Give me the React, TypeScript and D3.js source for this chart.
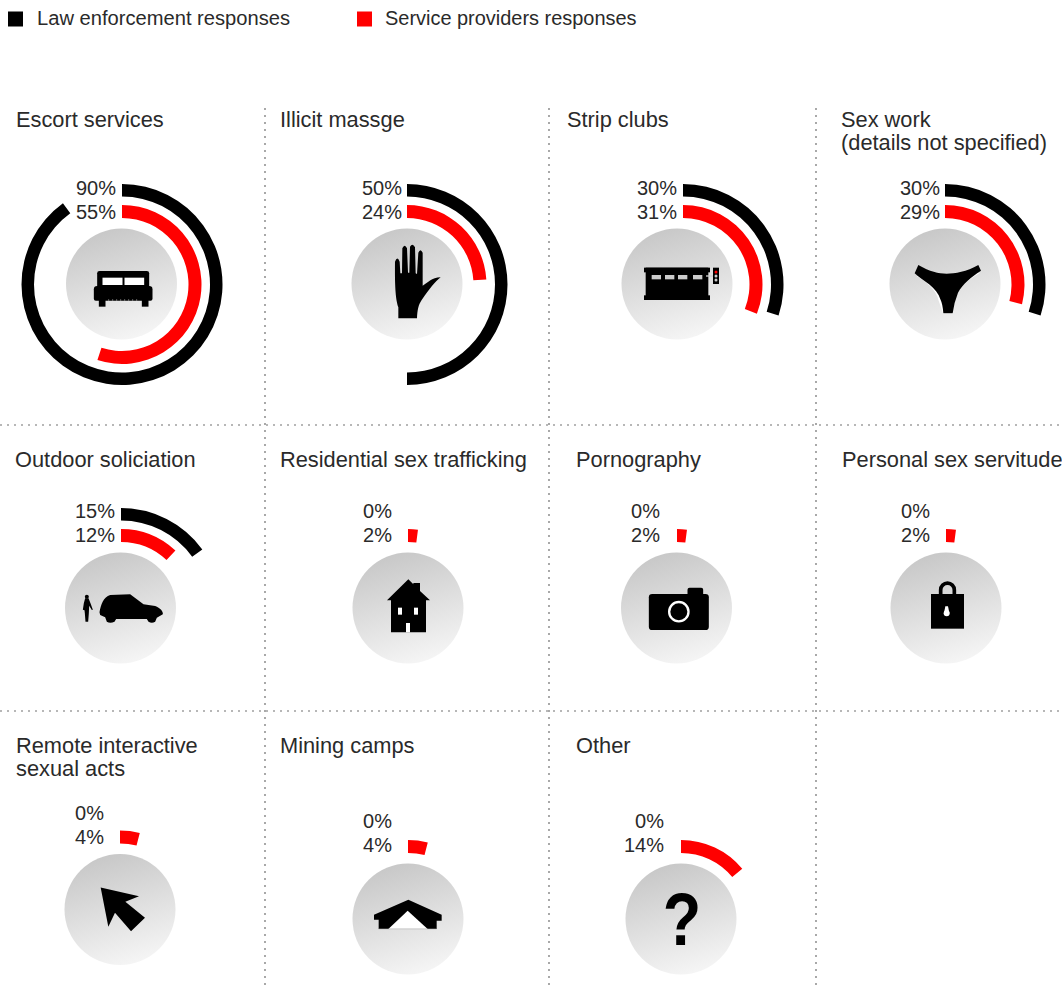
import React from "react";
import * as d3 from "d3";

const titles: string[][] = [
  ["Escort services"], ["Illicit massge"], ["Strip clubs"], ["Sex work", "(details not specified)"],
  ["Outdoor soliciation"], ["Residential sex trafficking"], ["Pornography"], ["Personal sex servitude"],
  ["Remote interactive", "sexual acts"], ["Mining camps"], ["Other"],
];
const lawValues = [90, 50, 30, 30, 15, 0, 0, 0, 0, 0, 0];
const serviceValues = [55, 24, 31, 29, 12, 2, 2, 2, 4, 4, 14];
const legendLabels = ["Law enforcement responses", "Service providers responses"];

// layout, per panel
const titleX = [16, 280, 567, 841, 15, 280, 576, 842, 16, 280, 576];
const titleY = [127, 127, 127, 127, 467, 467, 467, 467, 753, 753, 753];
const arcX = [122, 407, 683, 945, 121, 408, 677, 946, 120, 408, 681];
const discX = [121.5, 407, 677, 945, 120.5, 408, 676.5, 946, 120, 408, 681];
const centerY = [284.5, 284.5, 284.5, 284.5, 608.5, 608.5, 608.5, 608.5, 910, 919.5, 919.5];
const labelRight = [116, 402, 677, 940, 115, 392, 660, 930, 104, 392, 664];
const labelY = [194.5, 194.5, 194.5, 194.5, 517.5, 517.5, 517.5, 517.5, 819.5, 827.5, 827.5];
const vLines = [265, 549, 816];
const hLines = [425, 711];

const FONT = "'Liberation Sans', Arial, sans-serif";
const INK = "#2a2a2a";
const DOT = "#707070";
const angle = d3.scaleLinear().domain([0, 100]).range([0, 2 * Math.PI]);
const outerArc = d3.arc<number>().innerRadius(88).outerRadius(100.5).startAngle(0).endAngle((d) => angle(d));
const innerArc = d3.arc<number>().innerRadius(66.5).outerRadius(79.5).startAngle(0).endAngle((d) => angle(d));

// Each icon is drawn in 3x coordinates around its own origin
function Icon({ i }: { i: number }) {
  const k = "#000";
  switch (i) {
    case 0:
      return (
        <g transform="translate(-365,-342)">
          <path fill={k} d="M292 352V310Q292 303 299 303H441Q448 303 448 310V352Z" />
          <path fill={k} d="M282 358Q282 348 292 348H448Q458 348 458 358V386Q458 392 452 392H288Q282 392 282 386Z" />
          <rect fill={k} x={297} y={388} width={20} height={22} />
          <rect fill={k} x={426} y={388} width={20} height={22} />
          <rect fill="#fff" x={308} y={323} width={60} height={22} />
          <rect fill="#fff" x={374} y={323} width={59} height={22} />
          <path d="M325 390H420" stroke="#bbb" strokeWidth={3} strokeDasharray="3 9" fill="none" />
        </g>
      );
    case 1:
      return (
        <path transform="translate(-201,-192)" fill={k} d="M175 295L175 262C168 240 164 210 165 125Q172 106 179 125L181 160L186 160L187 85Q194 70 201 85L204 158L208 158L210 80Q218 68 225 82L227 160L231 162L235 98Q241 83 248 98L248 197C262 190 275 172 302 172C285 185 270 205 245 240C235 255 232 270 231 295Z" />
      );
    case 2:
      return (
        <g transform="translate(-201,-192)">
          <rect fill={k} x={107} y={143} width={188} height={97} />
          <rect fill={k} x={102} y={143} width={198} height={14} />
          <rect fill={k} x={102} y={226} width={198} height={14} />
          {[125, 165, 204, 249].map((x) => (
            <rect key={x} fill="#ccc" x={x} y={165} width={28} height={13} />
          ))}
          <rect fill="#ccc" x={288} y={166} width={22} height={4} />
          <rect fill={k} x={309} y={143} width={18} height={49} />
          <circle cx={318} cy={156} r={4.5} fill="#f00" />
          <circle cx={318} cy={168} r={4.5} fill="#ccc" />
          <circle cx={318} cy={180} r={4.5} fill="#ccc" />
        </g>
      );
    case 3:
      return (
        <g transform="translate(-195,-192)">
          <path fill="#fff" d="M110 168C140 186 168 208 176 242L190 282H218L224 242C230 208 265 178 300 158Z" />
          <path fill={k} d="M115 135C150 155 175 161 200 161C225 161 260 155 295 135L303 152C275 170 248 192 234 218Q222 248 218 280H190Q188 252 182 240C170 200 130 184 104 160Z" />
        </g>
      );
    case 4:
      return (
        <g transform="translate(-181,-189)">
          <path fill={k} d="M118 202C122 180 130 155 150 150L210 148L250 178L285 183C300 188 310 200 308 208L290 218L285 230Q275 236 265 230L260 222L168 222L163 230Q150 236 140 230L135 217L120 210Z" />
          <circle cx={80} cy={155} r={6} fill={k} />
          <path fill={k} d="M75 160H85L91 175L98 194L95 195L87 182L86 205L84 230H76L74 205L73 196L68 194L71 175Z" />
        </g>
      );
    case 5:
      return (
        <g transform="translate(-189,-189)">
          <path fill={k} d="M126 166L190 103L205 118V114H225V138L255 166H243V262H138V166Z" />
          <rect fill="#fff" x={159} y={188} width={12} height={21} />
          <rect fill="#fff" x={207} y={188} width={12} height={21} />
          <rect fill="#fff" x={183} y={234} width={12} height={28} />
        </g>
      );
    case 6:
      return (
        <g transform="translate(-185,-189)">
          <rect fill={k} x={102} y={147} width={180} height={108} rx={10} />
          <rect fill={k} x={218} y={128} width={47} height={30} rx={6} />
          <circle cx={192} cy={200} r={29} fill={k} stroke="#fff" strokeWidth={7} />
        </g>
      );
    case 7:
      return (
        <g transform="translate(-183,-189)">
          <path fill="none" stroke={k} strokeWidth={11} d="M167 150V135A20.5 20.5 0 0 1 208 135V150" />
          <rect fill={k} x={138} y={147} width={99} height={104} />
          <circle cx={185} cy={205} r={9} fill="#fff" />
          <path fill="#fff" d="M181 184H189L193 204H177Z" />
        </g>
      );
    case 8:
      return (
        <path transform="translate(-180,-180)" fill={k} d="M122 114L237 140L196 157L255 205L213 245L165 190L145 232Z" />
      );
    case 9:
      return (
        <g transform="translate(-189,-208)">
          <path fill={k} d="M87 195L190 150L290 195V213H275V238H101V210H87Z" />
          <path fill="#fff" d="M130 238L188 183L248 238Z" />
          <rect fill="#999" x={101} y={237} width={174} height={1.5} />
        </g>
      );
    default:
      return (
        <text textAnchor="middle" fontFamily={FONT} fontWeight={700} fontSize={205} fill={k} transform="translate(3,78) scale(0.92,1.08)">?</text>
      );
  }
}

export default function App() {
  return (
    <svg width={1062} height={987} viewBox="0 0 1062 987" style={{ position: "absolute", left: 0, top: 0, background: "#fff" }} fontFamily={FONT}>
      <defs>
        <linearGradient id="disc" x1="0.35" y1="0.02" x2="0.65" y2="0.98">
          <stop offset="0" stopColor="#c8c8c8" />
          <stop offset="1" stopColor="#f5f5f5" />
        </linearGradient>
      </defs>

      {legendLabels.map((t, i) => (
        <g key={t}>
          <rect x={[8, 357][i]} y={11.5} width={15} height={15} fill={["#000", "#f00"][i]} />
          <text x={[37, 385][i]} y={25} fontSize={i === 0 ? 20.15 : 19.95} fill={INK}>{t}</text>
        </g>
      ))}

      {vLines.map((x) => (
        <line key={x} x1={x} x2={x} y1={108} y2={987} stroke={DOT} strokeWidth={1.2} strokeDasharray="2 5" />
      ))}
      {hLines.map((y) => (
        <line key={y} x1={0} x2={1062} y1={y} y2={y} stroke={DOT} strokeWidth={1.2} strokeDasharray="2 5" />
      ))}

      {titles.map((lines, i) => (
        <g key={lines[0]}>
          {lines.map((l, j) => (
            <text key={l} x={titleX[i]} y={titleY[i] + j * 23} fontSize={21.8} fill={INK}>{l}</text>
          ))}
          <circle cx={discX[i]} cy={centerY[i] - 0.5} r={55.5} fill="url(#disc)" />
          {lawValues[i] > 0 && (
            <path transform={`translate(${arcX[i]},${centerY[i]})`} d={outerArc(lawValues[i]) as string} fill="#000" />
          )}
          <path transform={`translate(${arcX[i]},${centerY[i]})`} d={innerArc(serviceValues[i]) as string} fill="#f00" />
          <text x={labelRight[i]} y={labelY[i]} textAnchor="end" fontSize={20} fill={INK}>{lawValues[i]}%</text>
          <text x={labelRight[i]} y={labelY[i] + 24.5} textAnchor="end" fontSize={20} fill={INK}>{serviceValues[i]}%</text>
          <g transform={`translate(${discX[i]},${centerY[i] - 0.5}) scale(${1 / 3})`}>
            <Icon i={i} />
          </g>
        </g>
      ))}
    </svg>
  );
}
